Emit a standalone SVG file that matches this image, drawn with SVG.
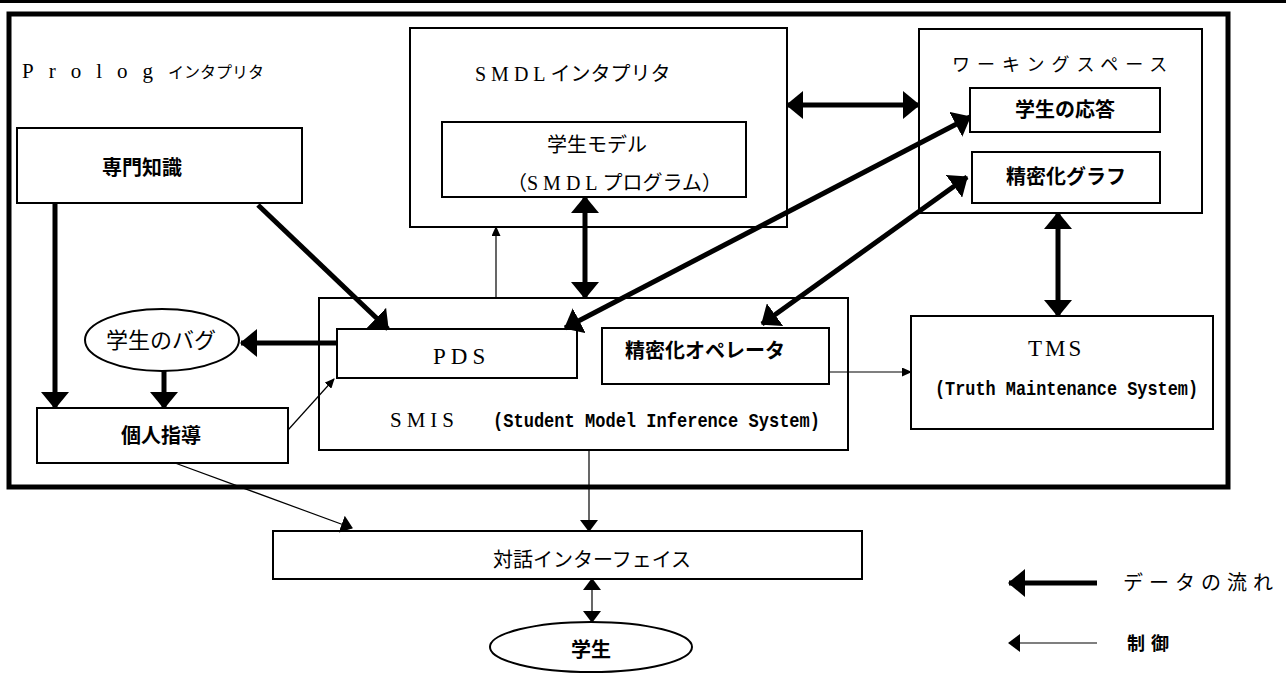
<svg xmlns="http://www.w3.org/2000/svg" width="1286" height="673" viewBox="0 0 1286 673">
<style>
.box{fill:#fff;stroke:#000;stroke-width:2}
.frame{fill:none;stroke:#000;stroke-width:5}
.jp{font-family:"Noto Sans CJK JP","Noto Sans",sans-serif;font-size:20px;fill:#000}
.b{font-weight:700}
.lat{font-family:"Liberation Serif","Noto Sans CJK JP",serif}
.mono{font-family:"Liberation Mono","DejaVu Sans Mono",monospace;font-size:21px;font-weight:700;fill:#000}
.mid{text-anchor:middle}
.thick{stroke:#000;stroke-width:5;fill:none}
.thin{stroke:#000;stroke-width:1.2;fill:none}
</style>
<defs>
<marker id="big" markerUnits="userSpaceOnUse" viewBox="0 0 17 28" refX="16" refY="14" markerWidth="17" markerHeight="28" orient="auto-start-reverse"><path d="M0,0 L17,14 L0,28 Z" fill="#000"/></marker>
<marker id="md" markerUnits="userSpaceOnUse" viewBox="0 0 12 18" refX="11" refY="9" markerWidth="12" markerHeight="18" orient="auto-start-reverse"><path d="M0,0 L12,9 L0,18 Z" fill="#000"/></marker>
<marker id="sm" markerUnits="userSpaceOnUse" viewBox="0 0 10 9" refX="9" refY="4.5" markerWidth="10" markerHeight="9" orient="auto-start-reverse"><path d="M0,0 L10,4.5 L0,9 Z" fill="#000"/></marker>
</defs>
<rect x="0" y="0" width="1286" height="3" fill="#000"/>
<g id="prolog">
<rect class="frame" x="9" y="14" width="1219" height="473"/>
<text class="jp" x="22" y="78" style="font-size:16px"><tspan class="lat" style="font-size:21px" letter-spacing="15">Prolog</tspan><tspan>インタプリタ</tspan></text>
</g>
<g id="smdl">
<rect class="box" x="410" y="28" width="377" height="199"/>
<text class="jp" x="475" y="81"><tspan class="lat" letter-spacing="5">SMDL</tspan><tspan>インタプリタ</tspan></text>
</g>
<g id="student-model">
<rect class="box" x="442" y="122" width="304" height="75"/>
<text class="jp mid" x="597" y="152">学生モデル</text>
<text class="jp" x="507" y="190">（<tspan class="lat" letter-spacing="5">SMDL</tspan><tspan>プログラム）</tspan></text>
</g>
<g id="workspace">
<rect class="box" x="919" y="29" width="283" height="184"/>
<text class="jp" x="952" y="71" style="font-size:18px" letter-spacing="7">ワーキングスペース</text>
</g>
<g id="response">
<rect class="box" x="970" y="88" width="190" height="44"/>
<text class="jp b mid" x="1065" y="117">学生の応答</text>
</g>
<g id="refine-graph">
<rect class="box" x="972" y="152" width="188" height="51"/>
<text class="jp b mid" x="1066" y="184">精密化グラフ</text>
</g>
<g id="expert">
<rect class="box" x="17" y="128" width="285" height="75"/>
<text class="jp b mid" x="142" y="175">専門知識</text>
</g>
<g id="bug">
<ellipse cx="162" cy="340" rx="77" ry="31" fill="#fff" stroke="#000" stroke-width="2"/>
<text class="jp mid" x="161" y="348" style="font-size:22px">学生のバグ</text>
</g>
<g id="tutor">
<rect class="box" x="37" y="408" width="251" height="55"/>
<text class="jp b mid" x="161" y="443">個人指導</text>
</g>
<g id="smis">
<rect class="box" x="319" y="298" width="529" height="152"/>
<text class="jp lat" x="390" y="427" style="font-size:21px" letter-spacing="5">SMIS</text>
<text class="mono" x="493" y="427" textLength="327" lengthAdjust="spacingAndGlyphs">(Student Model Inference System)</text>
</g>
<g id="pds">
<rect class="box" x="337" y="329" width="240" height="49"/>
<text class="jp lat" x="433" y="364" style="font-size:23px" letter-spacing="5">PDS</text>
</g>
<g id="refine-op">
<rect class="box" x="602" y="328" width="227" height="56"/>
<text class="jp b mid" x="705" y="358">精密化オペレータ</text>
</g>
<g id="tms">
<rect class="box" x="911" y="316" width="302" height="113"/>
<text class="jp lat" x="1028" y="356" style="font-size:23px" letter-spacing="3">TMS</text>
<text class="mono" x="935" y="395" textLength="263" lengthAdjust="spacingAndGlyphs">(Truth Maintenance System)</text>
</g>
<g id="dialog">
<rect class="box" x="273" y="531" width="589" height="48"/>
<text class="jp mid" x="592" y="567">対話インターフェイス</text>
</g>
<g id="student">
<ellipse cx="591" cy="647" rx="101" ry="25" fill="#fff" stroke="#000" stroke-width="2"/>
<text class="jp b mid" x="591" y="657">学生</text>
</g>
<g id="connectors">
<line class="thick" x1="787" y1="105" x2="919" y2="105" marker-start="url(#big)" marker-end="url(#big)"/>
<line class="thick" x1="970" y1="117" x2="565" y2="328" marker-start="url(#big)" marker-end="url(#big)"/>
<line class="thick" x1="967" y1="177" x2="762" y2="324" marker-start="url(#big)" marker-end="url(#big)"/>
<line class="thick" x1="585" y1="197" x2="585" y2="298" marker-start="url(#big)" marker-end="url(#big)"/>
<line class="thick" x1="1058" y1="213" x2="1058" y2="316" marker-start="url(#big)" marker-end="url(#big)"/>
<line class="thick" stroke-width="6" x1="258" y1="205" x2="388" y2="329" marker-end="url(#big)"/>
<line class="thick" x1="337" y1="343" x2="241" y2="343" marker-end="url(#big)"/>
<line class="thick" x1="164" y1="371" x2="164" y2="408" marker-end="url(#big)"/>
<line class="thick" stroke-width="3" x1="55" y1="203" x2="55" y2="408" marker-end="url(#big)"/>
<line class="thin" x1="496" y1="298" x2="496" y2="227" marker-end="url(#sm)"/>
<line class="thin" x1="829" y1="372" x2="911" y2="372" marker-end="url(#sm)"/>
<line class="thin" x1="288" y1="430" x2="334" y2="379" marker-end="url(#sm)"/>
<line class="thin" stroke-width="2" x1="175" y1="463" x2="352" y2="528" marker-end="url(#md)"/>
<line class="thin" stroke-width="1.5" x1="589" y1="450" x2="589" y2="531" marker-end="url(#md)"/>
<line class="thin" stroke-width="2" x1="592" y1="579" x2="592" y2="622" marker-start="url(#md)" marker-end="url(#md)"/>
</g>
<g id="legend">
<line class="thick" stroke-width="6" x1="1097" y1="583" x2="1009" y2="583" marker-end="url(#big)"/>
<text class="jp" x="1123" y="590" letter-spacing="6">データの流れ</text>
<line class="thin" x1="1097" y1="643" x2="1009" y2="643" marker-end="url(#md)"/>
<text class="jp b" x="1127" y="650" style="font-size:18px" letter-spacing="6">制御</text>
</g>
</svg>
